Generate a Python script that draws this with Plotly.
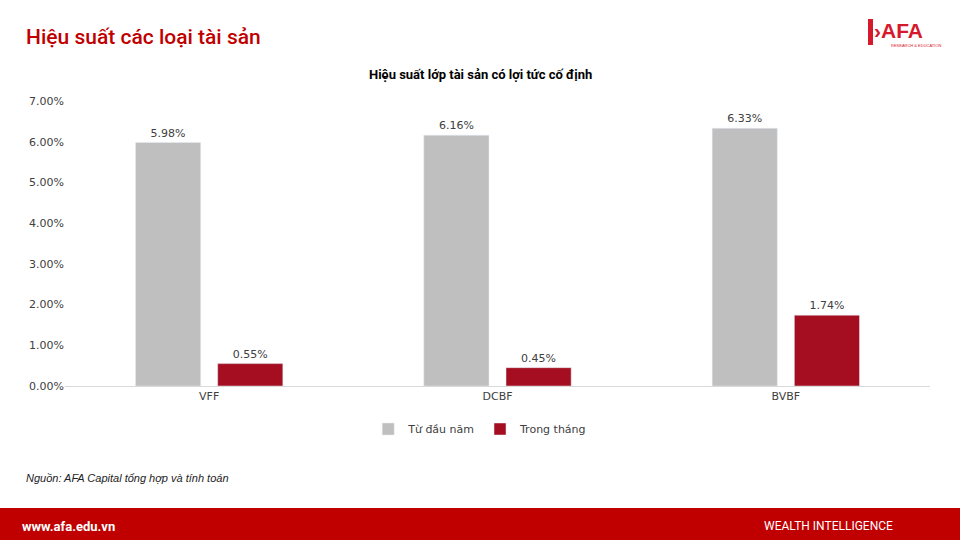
import plotly.graph_objects as go

# data
funds = ["VFF", "DCBF", "BVBF"]
ytd = [5.98, 6.16, 6.33]        # Từ đầu năm, %
month = [0.55, 0.45, 1.74]      # Trong tháng, %
y_ticks = [0, 1, 2, 3, 4, 5, 6, 7]

gray = "#BFBFBF"
red = "#A50E21"
txt = "#404040"
font = "DejaVu Sans"

L, R, T, B = 65, 30, 101, 154
W = 960 - L - R
H = 540 - T - B

fig = go.Figure()
fig.add_trace(go.Bar(
    x=funds, y=ytd, name="Từ đầu năm",
    marker_color=gray,
    text=[f"{v:.2f}%" for v in ytd], textposition="outside",
    textfont=dict(size=11, color=txt, family=font),
    cliponaxis=False,
))
fig.add_trace(go.Bar(
    x=funds, y=month, name="Trong tháng",
    marker_color=red,
    text=[f"{v:.2f}%" for v in month], textposition="outside",
    textfont=dict(size=11, color=txt, family=font),
    cliponaxis=False,
))

fig.update_layout(
    width=960, height=540,
    paper_bgcolor="white", plot_bgcolor="white",
    margin=dict(l=L, r=R, t=T, b=B),
    barmode="group", bargap=0.43, bargroupgap=0.207,
    font=dict(family=font, size=11, color=txt),
    showlegend=True,
    legend=dict(orientation="h", x=0.48, xanchor="center", y=-0.1, yanchor="top",
                font=dict(size=11, color=txt, family=font), itemwidth=30),
    xaxis=dict(showline=True, linecolor="#D9D9D9", linewidth=1, ticks="",
               tickfont=dict(size=11, color=txt), showgrid=False),
    yaxis=dict(range=[0, 7], tickvals=y_ticks,
               ticktext=[f"{v:.2f}%" for v in y_ticks],
               showgrid=False, zeroline=False, showline=False,
               tickfont=dict(size=11, color=txt)),
)


def px(x):
    return (x - L) / W


def py(y):
    return (540 - B - y) / H


# header / footer
fig.add_annotation(text="Hiệu suất các loại tài sản", xref="paper", yref="paper",
                   x=px(24), y=py(37), xanchor="left", yanchor="middle",
                   showarrow=False,
                   font=dict(family="Roboto", size=21, color="#C00000", weight=500))
fig.add_annotation(text="<b>Hiệu suất lớp tài sản có lợi tức cố định</b>", xref="paper", yref="paper",
                   x=px(480), y=py(75), xanchor="center", yanchor="middle",
                   showarrow=False,
                   font=dict(family="Roboto", size=13, color="#000000"))
fig.add_annotation(text="<i>Nguồn: AFA Capital tổng hợp và tính toán</i>", xref="paper", yref="paper",
                   x=px(24), y=py(478), xanchor="left", yanchor="middle",
                   showarrow=False,
                   font=dict(family="Liberation Sans", size=11, color="#222222"))

fig.add_shape(type="rect", xref="paper", yref="paper",
              x0=px(0), x1=px(960), y0=py(540), y1=py(508),
              fillcolor="#C00000", line_width=0, layer="above")
fig.add_annotation(text="<b>www.afa.edu.vn</b>", xref="paper", yref="paper",
                   x=px(20), y=py(526), xanchor="left", yanchor="middle", showarrow=False,
                   font=dict(family="Roboto", size=13, color="white"))
fig.add_annotation(text="WEALTH INTELLIGENCE", xref="paper", yref="paper",
                   x=px(895), y=py(526), xanchor="right", yanchor="middle", showarrow=False,
                   font=dict(family="Roboto", size=12, color="white"))

# logo
fig.add_shape(type="path", xref="paper", yref="paper",
              path="M %f %f L %f %f L %f %f L %f %f Z" % (
                  px(868), py(19), px(873), py(19), px(873), py(45), px(868), py(45)),
              fillcolor="#D7192D", line_width=0)
fig.add_annotation(text="<b>\u203a</b><b>AFA</b>", xref="paper", yref="paper",
                   x=px(872), y=py(31), xanchor="left", yanchor="middle",
                   showarrow=False,
                   font=dict(family="Liberation Sans", size=21, color="#D7192D"))
fig.add_annotation(text="RESEARCH & EDUCATION", xref="paper", yref="paper",
                   x=px(943), y=py(45), xanchor="right", yanchor="middle",
                   showarrow=False,
                   font=dict(family="Liberation Sans", size=4, color="#D7192D"))

fig.write_html("out.html", config={"displayModeBar": False},
               post_script="document.body.style.margin='0';")
